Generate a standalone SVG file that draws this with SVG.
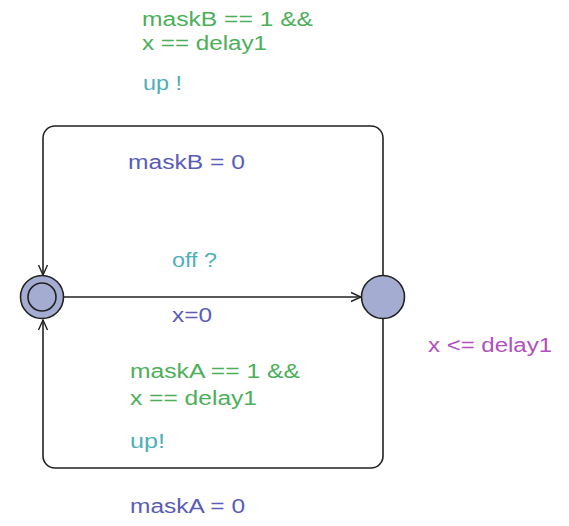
<svg xmlns="http://www.w3.org/2000/svg" width="569" height="526" viewBox="0 0 569 526">
<defs>
<marker id="arr" viewBox="0 0 12 12" refX="11" refY="6" markerWidth="12" markerHeight="12" markerUnits="userSpaceOnUse" orient="auto">
<path d="M1,1.5 L11,6 L1,10.5" fill="none" stroke="#222" stroke-width="1.4"/>
</marker>
</defs>
<style>
text{font-family:"Liberation Sans",Arial,sans-serif;font-size:20px}
.g{fill:#4caf5a}
.s{fill:#4fb0b8}
.a{fill:#5a5cb8}
.i{fill:#b050bd}
.e{fill:none;stroke:#222;stroke-width:1.6}
.n{fill:#a4acd2;stroke:#222;stroke-width:1.6}
</style>
<rect width="569" height="526" fill="#fff"/>
<g id="connectors">
<path class="e" d="M383,276 L383,138 A12,12 0 0 0 371,126 L55,126 A12,12 0 0 0 43,138 L43,275" marker-end="url(#arr)"/>
<path class="e" d="M64,297 L361,297" marker-end="url(#arr)"/>
<path class="e" d="M383,319 L383,456 A12,12 0 0 1 371,468 L55,468 A12,12 0 0 1 43,456 L43,320" marker-end="url(#arr)"/>
</g>
<g id="init">
<circle class="n" cx="42" cy="297" r="21.5"/>
<circle cx="42" cy="297" r="14" fill="none" stroke="#222" stroke-width="1.6"/>
</g>
<g id="wait">
<circle class="n" cx="383" cy="297" r="21.5"/>
</g>
<g id="labels">
<text class="g" x="142" y="26" textLength="171" lengthAdjust="spacingAndGlyphs">maskB == 1 &amp;&amp;</text>
<text class="g" x="142" y="50" textLength="125" lengthAdjust="spacingAndGlyphs">x == delay1</text>
<text class="s" x="143" y="90" textLength="39" lengthAdjust="spacingAndGlyphs">up !</text>
<text class="a" x="128" y="169" textLength="117" lengthAdjust="spacingAndGlyphs">maskB = 0</text>
<text class="s" x="172" y="267" textLength="45" lengthAdjust="spacingAndGlyphs">off ?</text>
<text class="a" x="172" y="322" textLength="40" lengthAdjust="spacingAndGlyphs">x=0</text>
<text class="i" x="428" y="352" textLength="124" lengthAdjust="spacingAndGlyphs">x &lt;= delay1</text>
<text class="g" x="130" y="378" textLength="170" lengthAdjust="spacingAndGlyphs">maskA == 1 &amp;&amp;</text>
<text class="g" x="130" y="405" textLength="127" lengthAdjust="spacingAndGlyphs">x == delay1</text>
<text class="s" x="130" y="448" textLength="35" lengthAdjust="spacingAndGlyphs">up!</text>
<text class="a" x="130" y="513" textLength="115" lengthAdjust="spacingAndGlyphs">maskA = 0</text>
</g>
</svg>
